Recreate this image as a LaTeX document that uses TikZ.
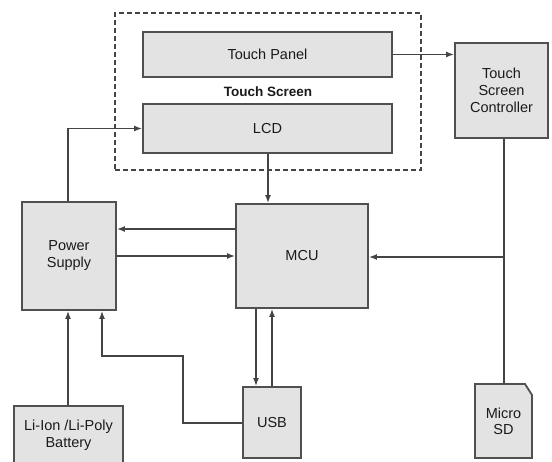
\documentclass[tikz,border=0pt]{standalone}
\usepackage{fontspec}
\setmainfont{Liberation Sans}
\usetikzlibrary{arrows.meta,calc}
\definecolor{boxfill}{HTML}{E3E3E3}
\definecolor{boxline}{HTML}{505050}
\definecolor{wire}{HTML}{444444}
\definecolor{txt}{HTML}{1A1A1A}
\begin{document}
\begin{tikzpicture}[x=1pt,y=-1pt,
  block/.style={draw=boxline,fill=boxfill,line width=1.8pt,inner sep=0pt,
    align=center,text=txt,font=\fontsize{14.5}{17}\selectfont},
  conn/.style={draw=wire,line width=1.6pt},
  arr/.style={conn,-{Latex[length=8pt,width=6pt]}},
  ]
\useasboundingbox (0,0) rectangle (552,462);
\clip (0,0) rectangle (552,462);
\fill[white] (0,0) rectangle (552,462);
% touch screen group
\node[draw=wire,dash pattern=on 5pt off 3pt,line width=1.4pt,
  minimum width=306pt,minimum height=157pt,inner sep=0pt,
  font=\bfseries\fontsize{13.5}{15}\selectfont,text=txt] (ts) at (268,91.5) {Touch Screen};
\node[block,minimum width=249pt,minimum height=45pt] (tp) at (267.5,54.5) {Touch Panel};
\node[block,minimum width=249pt,minimum height=49pt] (lcd) at (267.5,128.5) {LCD};
\node[block,minimum width=93pt,minimum height=95pt] (tsc) at (501.5,90.5) {Touch\\Screen\\Controller};
\node[block,minimum width=94pt,minimum height=108pt] (ps) at (69,256) {Power\\Supply};
\node[block,minimum width=132pt,minimum height=104pt] (mcu) at (302,256) {MCU};
\node[block,minimum width=58pt,minimum height=71pt] (usb) at (272,422.5) {USB};
\node[block,minimum width=109pt,minimum height=58pt] (bat) at (68.5,435) {Li-Ion /Li-Poly\\Battery};
% micro SD with folded corner
\coordinate (sd) at (503.5,421);
\path (sd) +(-28.5,-37) coordinate (sdnw) +(28.5,37) coordinate (sdse);
\draw[draw=boxline,fill=boxfill,line width=1.8pt]
  (sdnw |- sdse) -- (sdnw) -- ($(sdse |- sdnw)+(-7,0)$)
  -- ($(sdse |- sdnw)+(0,11)$) -- (sdse) -- cycle;
\node[inner sep=0pt,align=center,text=txt,font=\fontsize{14.5}{16}\selectfont] (sdt) at (sd) {Micro\\SD};
% connectors
\draw[arr] (tp.east) -- (tp.east -| tsc.west);
\draw[arr] (ps.north -| 68,0) |- (lcd.west);
\draw[arr] (lcd.south -| 268,0) -- (mcu.north -| 268,0);
\draw[arr] (mcu.west |- 0,229) -- (ps.east |- 0,229);
\draw[arr] (ps.east |- 0,256) -- (mcu.west |- 0,256);
\coordinate (j) at (504,257);
\draw[conn] (tsc.south -| j) -- (sdnw -| j);
\draw[arr] (j) -- (mcu.east |- j);
\draw[arr] (mcu.south -| 256,0) -- (usb.north -| 256,0);
\draw[arr] (usb.north -| 272,0) -- (mcu.south -| 272,0);
\draw[arr] (bat.north -| 68,0) -- (ps.south -| 68,0);
\draw[arr] (usb.west |- 0,423) -| (183,356) -| (ps.south -| 102,0);
\end{tikzpicture}
\end{document}
